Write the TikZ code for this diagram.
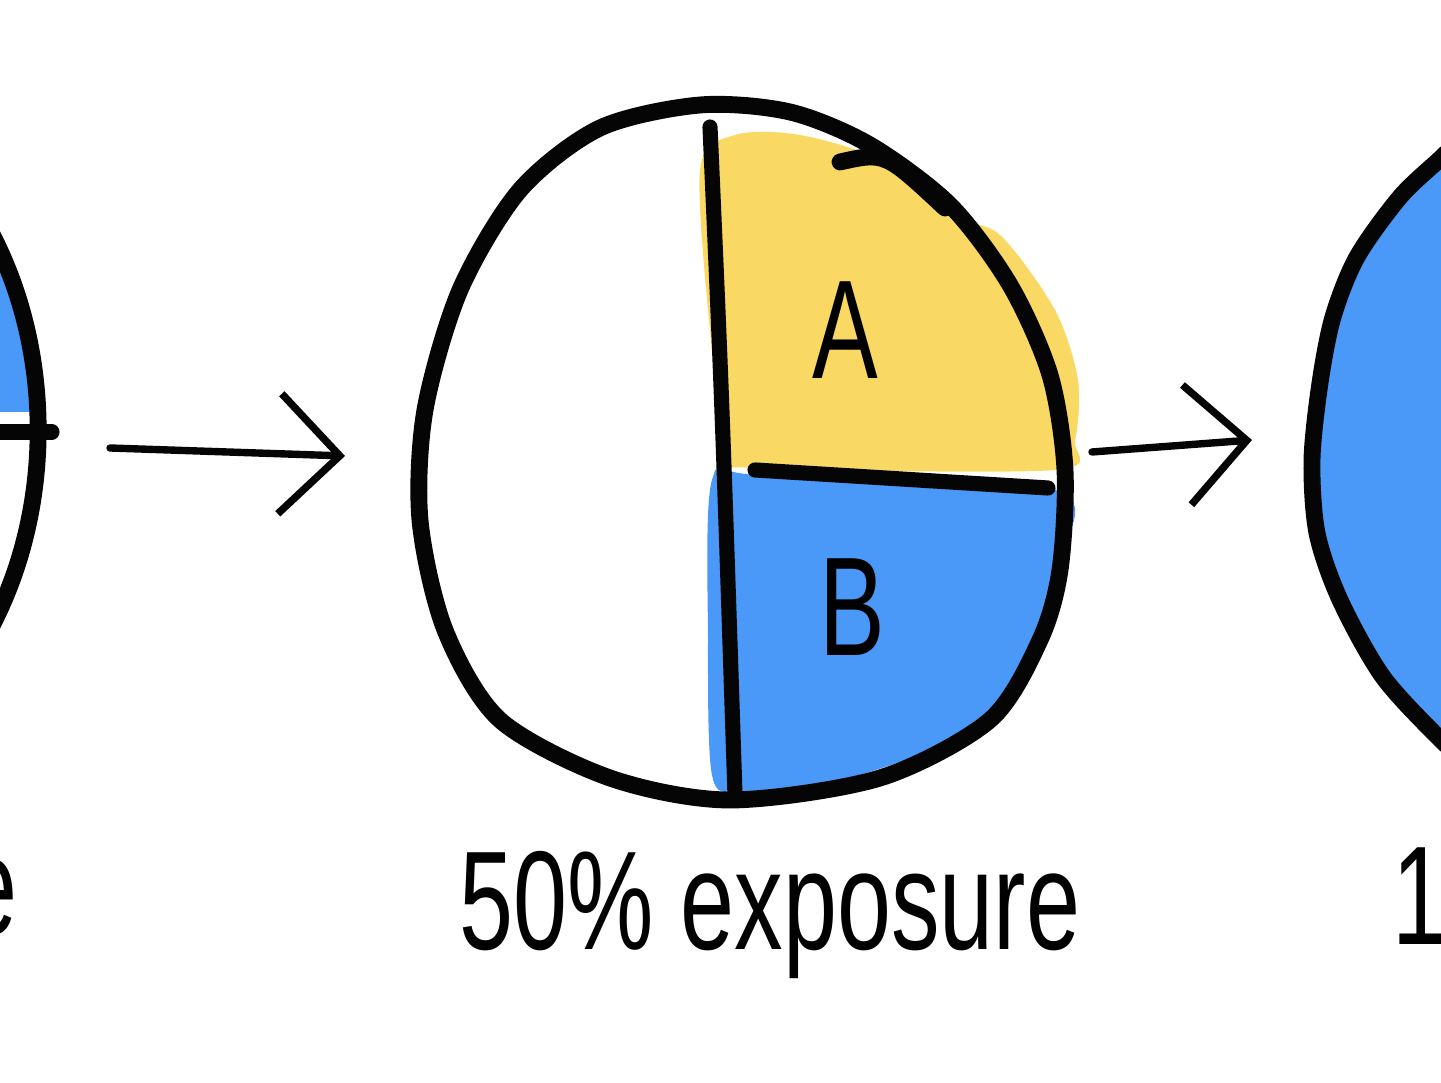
\documentclass[tikz,border=0pt]{standalone}
\usepackage{fontspec}
\setmainfont{Liberation Sans}
\usetikzlibrary{arrows.meta}
\definecolor{SketchBlue}{HTML}{4A98F7}
\definecolor{SketchYellow}{HTML}{FAD864}
\definecolor{SketchInk}{HTML}{050505}

\begin{document}
\begin{tikzpicture}[
  x=0.01cm, y=-0.01cm,
  outline/.style={draw=SketchInk, line width=4.8pt, line cap=round, line join=round},
  divider/.style={draw=SketchInk, line width=4.3pt, line cap=round},
  arrow/.style={draw=SketchInk, -{Straight Barb[length=6mm, width=12mm, line width=2.1pt]}, line width=2.1pt, line cap=round},
  letter/.style={font=\fontsize{40}{44}\selectfont, xscale=0.7, inner sep=0pt},
  caption/.style={font=\fontsize{40}{44}\selectfont, xscale=0.69, inner sep=0pt, anchor=base}
]
\useasboundingbox (0,0) rectangle (1441,1083);

% left pie (cut off)
\begin{scope}
  \clip (-250,430) ellipse [x radius=2.88cm, y radius=3.6cm];
  \fill[SketchBlue] (-600,0) rectangle (100,412);
\end{scope}
\draw[outline] (-250,430) ellipse [x radius=2.88cm, y radius=3.6cm];
\coordinate (leftcut) at (-60,432);
\coordinate (leftedge) at (52,432);
\draw[divider] (leftcut) -- (leftedge);
\node[caption, anchor=base east] (leftcap) at (18,935) {exposure};

% middle pie, 50%
\fill[SketchYellow] plot[smooth cycle] coordinates {(700,170) (735,135) (800,135) (880,160) (950,215) (1000,235) (1055,310) (1078,380) (1075,440) (1055,470) (760,468) (730,455) (712,350)};
\fill[SketchBlue] plot[smooth cycle] coordinates {(712,480) (760,475) (1055,490) (1060,560) (1045,640) (1000,710) (930,750) (840,780) (740,792) (712,775) (708,640)};
\draw[outline] plot[smooth cycle] coordinates {(700,105) (790,112) (870,145) (950,205) (1010,285) (1050,375) (1065,470) (1060,570) (1040,640) (990,720) (880,778) (730,800) (610,778) (500,720) (445,630) (420,520) (425,410) (460,290) (520,190) (600,128)};
\draw[outline] (840,162) .. controls (885,152) .. (945,208);
\coordinate (midtop) at (710,127);
\coordinate (midbottom) at (735,795);
\coordinate (midcentre) at (755,470);
\coordinate (midright) at (1048,488);
\draw[divider] (midtop) .. controls (722,400) .. (midbottom);
\draw[divider] (midcentre) -- (midright);
\node[letter] (labelA) at (845,330) {A};
\node[letter] (labelB) at (852,607) {B};
\node[caption] (midcap) at (770,950) {50\% exposure};

% right pie (cut off), 100%
\fill[SketchBlue] plot[smooth] coordinates {(1470,130) (1441,158) (1400,197) (1357,257) (1333,317) (1320,383) (1312,460) (1317,533) (1340,600) (1383,677) (1441,740) (1470,765)} -- (1600,765) -- (1600,130) -- cycle;
\draw[outline] plot[smooth] coordinates {(1470,130) (1441,158) (1400,197) (1357,257) (1333,317) (1320,383) (1312,460) (1317,533) (1340,600) (1383,677) (1441,740) (1470,765)};
\node[caption, anchor=base west] (rightcap) at (1392,945) {100\% exposure};

% arrows between the stages
\coordinate (arrowAstart) at (110,448);
\coordinate (arrowAend) at (345,456);
\coordinate (arrowBstart) at (1092,452);
\coordinate (arrowBend) at (1252,440);
\draw[arrow] (arrowAstart) -- (arrowAend);
\draw[arrow] (arrowBstart) -- (arrowBend);
\end{tikzpicture}
\end{document}
